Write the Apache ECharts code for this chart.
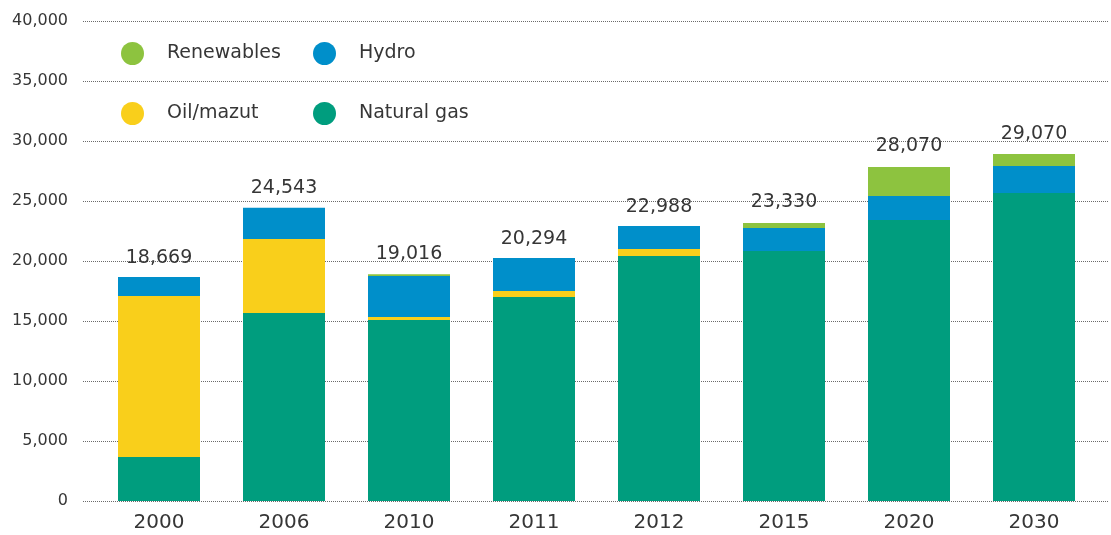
<!DOCTYPE html>
<html lang="en">
<head>
    <meta charset="UTF-8">
    <title>Power generation mix</title>
    <script src="https://cdn.jsdelivr.net/npm/echarts@6/dist/echarts.min.js"></script>
    <style>
        html, body { margin: 0; padding: 0; background: #fff; }
        #main { width: 1111px; height: 535px; }
    </style>
</head>
<body>
<div id="main"></div>
<script type="text/javascript">

    var years = ['2000', '2006', '2010', '2011', '2012', '2015', '2020', '2030'];
    var naturalGas = [3670, 15670, 15080, 17000, 20420, 20830, 23420, 25670];
    var oilMazut = [13410, 6160, 250, 500, 580, 0, 0, 0];
    var hydro = [1589, 2600, 3420, 2750, 1920, 1920, 2000, 2250];
    var renewables = [0, 0, 150, 0, 0, 420, 2420, 1000];
    var totals = [18669, 24543, 19016, 20294, 22988, 23330, 28070, 29070];
    var yTicks = [0, 5000, 10000, 15000, 20000, 25000, 30000, 35000, 40000];

    var font = '"DejaVu Sans", sans-serif';
    var textColor = '#363636';

    function fmt(v) {
        return v.toLocaleString('en-US');
    }

    var chartDom = document.getElementById('main');
    var myChart = echarts.init(chartDom);

    function legendItem(name, left, top) {
        return {
            data: [name],
            left: left,
            top: top,
            padding: 0,
            icon: 'circle',
            itemWidth: 23,
            itemHeight: 23,
            selectedMode: false,
            textStyle: {
                fontFamily: font,
                fontSize: 19,
                color: textColor,
                padding: [0, 0, 0, 18]
            }
        };
    }

    var option = {
        animation: false,
        legend: [
            legendItem('Renewables', 121, 42),
            legendItem('Hydro', 313, 42),
            legendItem('Oil/mazut', 121, 102),
            legendItem('Natural gas', 313, 102)
        ],
        grid: [
            { left: 83, right: 3, top: 21, bottom: 34 },
            { left: 96.5, right: 14.5, top: 21, bottom: 34 }
        ],
        xAxis: [
            { type: 'category', data: years, gridIndex: 0, show: false },
            {
                type: 'category',
                data: years,
                gridIndex: 1,
                axisLine: { show: false },
                axisTick: { show: false },
                axisLabel: {
                    margin: 12,
                    fontFamily: font,
                    fontSize: 20,
                    color: textColor
                }
            }
        ],
        yAxis: [
            {
                type: 'value',
                gridIndex: 0,
                min: yTicks[0],
                max: yTicks[yTicks.length - 1],
                interval: 5000,
                axisLine: { show: false },
                axisTick: { show: false },
                axisLabel: {
                    margin: 15,
                    fontFamily: font,
                    fontSize: 16,
                    color: textColor,
                    padding: [0, 0, 8, 0],
                    formatter: fmt
                },
                splitLine: {
                    lineStyle: { color: '#6a6a6a', type: [1, 1], width: 1 }
                }
            },
            {
                type: 'value',
                gridIndex: 1,
                min: yTicks[0],
                max: yTicks[yTicks.length - 1],
                show: false
            }
        ],
        series: [
            {
                name: 'Natural gas', type: 'bar', stack: 'mix',
                xAxisIndex: 1, yAxisIndex: 1, barWidth: 82,
                itemStyle: { color: '#009d7e' },
                data: naturalGas
            },
            {
                name: 'Oil/mazut', type: 'bar', stack: 'mix',
                xAxisIndex: 1, yAxisIndex: 1, barWidth: 82,
                itemStyle: { color: '#f9cf1b' },
                data: oilMazut
            },
            {
                name: 'Hydro', type: 'bar', stack: 'mix',
                xAxisIndex: 1, yAxisIndex: 1, barWidth: 82,
                itemStyle: { color: '#008fca' },
                data: hydro
            },
            {
                name: 'Renewables', type: 'bar', stack: 'mix',
                xAxisIndex: 1, yAxisIndex: 1, barWidth: 82,
                itemStyle: { color: '#8dc33f' },
                data: renewables
            },
            {
                name: 'Total', type: 'scatter',
                xAxisIndex: 1, yAxisIndex: 1,
                symbolSize: 0,
                silent: true,
                itemStyle: { opacity: 1 },
                label: {
                    show: true,
                    position: 'top',
                    distance: 9,
                    fontFamily: font,
                    fontSize: 19,
                    color: textColor,
                    formatter: function (p) { return fmt(p.value); }
                },
                data: totals
            }
        ]
    };

    myChart.setOption(option);
</script>
</body>
</html>
